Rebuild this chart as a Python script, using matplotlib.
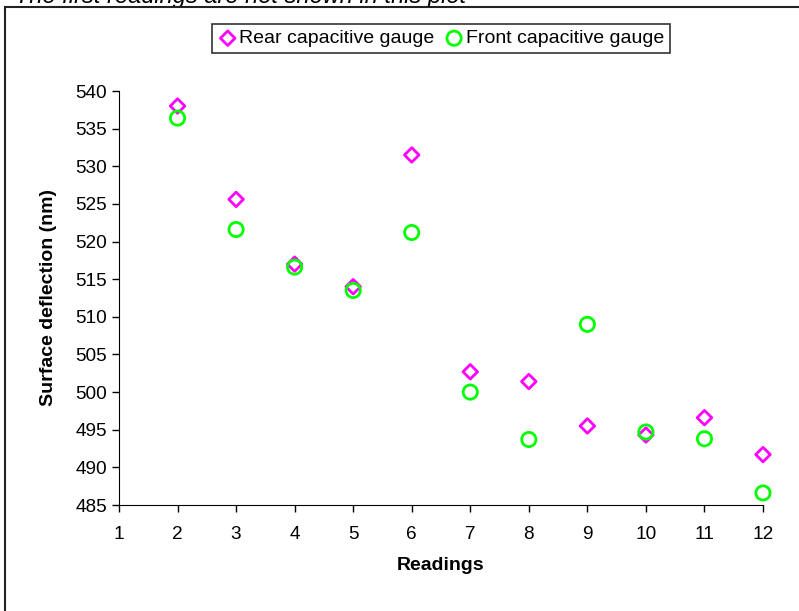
import matplotlib
matplotlib.use("Agg")
import matplotlib.pyplot as plt
from matplotlib.patches import Rectangle

readings = [2, 3, 4, 5, 6, 7, 8, 9, 10, 11, 12]
rear = [538.0, 525.6, 517.0, 514.0, 531.5, 502.7, 501.4, 495.5, 494.3, 496.6, 491.7]
front = [536.4, 521.6, 516.6, 513.5, 521.2, 500.0, 493.7, 509.0, 494.7, 493.8, 486.6]
xticks = list(range(1, 13))
yticks = list(range(485, 545, 5))

plt.rcParams['font.family'] = ['Liberation Sans', 'DejaVu Sans']

W, H = 799, 611
fig = plt.figure(figsize=(W / 100, H / 100), dpi=100)

fig.text(15 / W, 1 - 3 / H, "The first readings are not shown in this plot", fontsize=17,
         style='italic', ha='left', va='baseline', zorder=0)

# outer chart area (white, covers the lower part of the note above)
fig.patches.append(Rectangle((5 / W, -0.1), 1.2, (H - 7) / H + 0.1, transform=fig.transFigure,
                             facecolor='white', edgecolor='#222222', linewidth=1.5, zorder=1))

ax = fig.add_axes([119 / W, (H - 505) / H, (763 - 119) / W, (505 - 91) / H])
ax.set_zorder(2)
ax.patch.set_alpha(0)
ax.scatter(readings, rear, marker='D', s=55, facecolors='none', edgecolors='#FF00FF',
           linewidths=2, label='Rear capacitive gauge', zorder=3, clip_on=False)
ax.scatter(readings, front, marker='o', s=105, facecolors='none', edgecolors='#00FF00',
           linewidths=2, label='Front capacitive gauge', zorder=3, clip_on=False)

ax.set_xlim(1, 12)
ax.set_ylim(485, 540)
ax.set_xticks(xticks)
ax.set_yticks(yticks)
ax.spines['top'].set_visible(False)
ax.spines['right'].set_visible(False)
ax.tick_params(axis='both', labelsize=13.7, direction='out', length=5, width=1)
ax.tick_params(axis='x', pad=10)
ax.set_xlabel('Readings', fontsize=14, fontweight='bold')
ax.set_ylabel('Surface deflection (nm)', fontsize=14, fontweight='bold')
ax.xaxis.set_label_coords(0.5, (505 - 557) / 414)
ax.yaxis.set_label_coords((57 - 119) / 644, 0.5)

leg = fig.legend(loc='center', bbox_to_anchor=((214 + 668) / 2 / W, 1 - (23 + 54) / 2 / H),
                 ncol=2, fontsize=14, frameon=True, fancybox=False, edgecolor='black',
                 handletextpad=0.1, columnspacing=0.5, handlelength=1.0, borderpad=0.3,
                 borderaxespad=0)
leg.set_zorder(5)
leg.get_frame().set_linewidth(1.2)

fig.savefig('out.png', dpi=100)
